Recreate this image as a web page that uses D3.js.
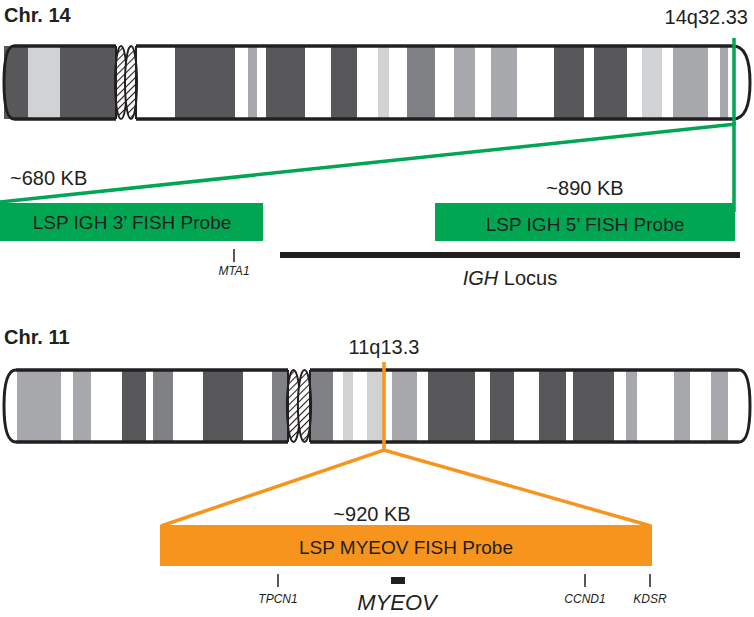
<!DOCTYPE html>
<html><head><meta charset="utf-8">
<script src="https://cdn.jsdelivr.net/npm/d3@7"></script>
<style>body{margin:0;background:#fff}text{font-family:"Liberation Sans",Arial,sans-serif}</style>
</head><body><div id="chart"></div>
<script>
// band stain classes: d=dark, m=mid, g=gray, l=light
const shade = {d: "#58585a", m: "#808184", g: "#a7a8ab", l: "#d1d2d4"};

// chr14 bands in picture pixel units (start, end, stain)
const chr14P = [[4, 28, "d"], [28, 60, "l"], [60, 116, "d"]];
const chr14Q = [[175, 235, "d"], [248, 257, "g"], [266, 305, "d"], [331, 357, "d"], [378, 389, "l"],
  [407, 435, "m"], [454, 475, "g"], [491, 517, "g"], [554, 584, "d"], [594, 627, "d"],
  [642, 662, "l"], [673, 708, "g"], [720, 728, "g"]];
const chr11P = [[17, 61, "g"], [73, 91, "g"], [122, 146, "d"], [153, 173, "m"], [203, 243, "d"], [272, 288, "m"]];
const chr11Q = [[311, 333, "m"], [343, 353, "l"], [367, 385, "l"], [392, 417, "g"], [428, 475, "d"],
  [490, 514, "d"], [539, 566, "d"], [573, 614, "d"], [626, 637, "g"], [674, 690, "g"], [711, 728, "g"]];

const genes14 = [["MTA1", 234]];
const genes11 = [["TPCN1", 278], ["CCND1", 585], ["KDSR", 650]];

const W = 754, H = 617;
const x = d3.scaleLinear().domain([0, W]).range([0, W]);
const svg = d3.select("#chart").append("svg").attr("width", W).attr("height", H);

const defs = svg.append("defs");
const pat = defs.append("pattern").attr("id", "hatch").attr("width", 5).attr("height", 5)
  .attr("patternUnits", "userSpaceOnUse").attr("patternTransform", "rotate(45)");
pat.append("rect").attr("width", 5).attr("height", 5).attr("fill", "#fff");
pat.append("line").attr("x1", 0).attr("y1", 0).attr("x2", 0).attr("y2", 5).attr("stroke", "#231f20").attr("stroke-width", 2.2);

function chromosome(y0, y1, pStart, pEnd, qStart, qEnd, capL, capR, pBands, qBands, pDark) {
  const g = svg.append("g");
  const h = y1 - y0;
  // arms
  g.append("path").attr("fill", pDark ? shade.d : "#fff")
    .attr("d", `M${x(pEnd)},${y0} L${x(pStart)},${y0} Q${x(capL)},${y0} ${x(capL)},${(y0 + y1) / 2} Q${x(capL)},${y1} ${x(pStart)},${y1} L${x(pEnd)},${y1} Z`);
  g.append("rect").attr("x", x(pStart)).attr("y", y0).attr("width", x(pEnd) - x(pStart)).attr("height", h).attr("fill", "#fff");
  g.append("path").attr("fill", "#fff")
    .attr("d", `M${x(qStart)},${y0} L${x(qEnd)},${y0} Q${x(capR)},${y0} ${x(capR)},${(y0 + y1) / 2} Q${x(capR)},${y1} ${x(qEnd)},${y1} L${x(qStart)},${y1} Z`);
  if (pDark) g.append("rect").attr("x", x(pStart)).attr("y", y0).attr("width", x(pEnd) - x(pStart)).attr("height", h).attr("fill", shade.d);
  g.selectAll(".band").data(pBands.concat(qBands)).enter().append("rect")
    .attr("x", d => x(d[0])).attr("width", d => x(d[1]) - x(d[0]))
    .attr("y", y0).attr("height", h).attr("fill", d => shade[d[2]]);
  // centromere
  const cw = (qStart - pEnd) / 2;
  [pEnd + cw * 0.5, qStart - cw * 0.5].forEach(cx => {
    g.append("ellipse").attr("cx", x(cx)).attr("cy", (y0 + y1) / 2).attr("rx", cw * 0.6).attr("ry", h / 2)
      .attr("fill", "url(#hatch)").attr("stroke", "#231f20").attr("stroke-width", 2);
  });
  // outlines
  const line = (a, b, y) => g.append("line").attr("x1", x(a)).attr("x2", x(b)).attr("y1", y).attr("y2", y).attr("stroke", "#231f20").attr("stroke-width", 3.5);
  line(pStart, pEnd, y0); line(pStart, pEnd, y1); line(qStart, qEnd, y0); line(qStart, qEnd, y1);
  g.append("line").attr("x1", x(pEnd)).attr("x2", x(pEnd)).attr("y1", y0).attr("y2", y1).attr("stroke", "#231f20").attr("stroke-width", 2);
  g.append("line").attr("x1", x(qStart)).attr("x2", x(qStart)).attr("y1", y0).attr("y2", y1).attr("stroke", "#231f20").attr("stroke-width", 2);
  const cap = (a, c) => g.append("path").attr("fill", "none").attr("stroke", "#231f20").attr("stroke-width", 3)
    .attr("d", `M${x(a)},${y0} Q${x(c)},${y0} ${x(c)},${(y0 + y1) / 2} Q${x(c)},${y1} ${x(a)},${y1}`);
  cap(pStart, capL); cap(qEnd, capR);
}

function txt(t, px, py, size, opts = {}) {
  return svg.append("text").attr("x", x(px)).attr("y", py).attr("font-size", size)
    .attr("text-anchor", opts.anchor || "start").attr("font-weight", opts.bold ? "bold" : "normal")
    .attr("font-style", opts.italic ? "italic" : "normal").attr("fill", opts.fill || "#231f20").text(t);
}

// ---- Chr 14 ----
const green = "#00a651";
txt("Chr. 14", 4, 22, 20, {bold: true});
txt("14q32.33", 748, 24, 20, {anchor: "end"});
chromosome(46, 119, 14, 116, 136, 733, 4, 750, chr14P, chr14Q, true);
svg.append("path").attr("fill", "none").attr("stroke", green).attr("stroke-width", 3.5)
  .attr("d", `M${x(734)},38 L${x(734)},212 M${x(736)},124 L${x(0)},202`);
svg.append("rect").attr("x", x(0)).attr("y", 203).attr("width", x(263)).attr("height", 38).attr("fill", green);
svg.append("rect").attr("x", x(435)).attr("y", 203).attr("width", x(735) - x(435)).attr("height", 38).attr("fill", green);
txt("~680 KB", 10, 185, 20);
txt("~890 KB", 585, 195, 20, {anchor: "middle"});
txt("LSP IGH 3\u2019 FISH Probe", 132, 229, 19, {anchor: "middle"});
txt("LSP IGH 5\u2019 FISH Probe", 585, 231, 19, {anchor: "middle"});
genes14.forEach(([n, gx]) => {
  svg.append("line").attr("x1", x(gx)).attr("x2", x(gx)).attr("y1", 249).attr("y2", 262).attr("stroke", "#231f20").attr("stroke-width", 1.5);
  txt(n, gx, 275, 12, {anchor: "middle", italic: true});
});
svg.append("rect").attr("x", x(280)).attr("y", 252).attr("width", x(740) - x(280)).attr("height", 6).attr("fill", "#231f20");
const locus = txt("", 510, 285, 20, {anchor: "middle"});
locus.append("tspan").attr("font-style", "italic").text("IGH");
locus.append("tspan").text(" Locus");

// ---- Chr 11 ----
const orange = "#f7941d";
txt("Chr. 11", 4, 344, 20, {bold: true});
txt("11q13.3", 384, 354, 20, {anchor: "middle"});
chromosome(370, 442, 16, 288, 310, 739, 4, 750, chr11P, chr11Q, false);
svg.append("path").attr("fill", "none").attr("stroke", orange).attr("stroke-width", 3.5)
  .attr("d", `M${x(384)},362 L${x(384)},450 M${x(161)},526 L${x(384)},450 L${x(651)},526`);
svg.append("rect").attr("x", x(160)).attr("y", 525).attr("width", x(652) - x(160)).attr("height", 41).attr("fill", orange);
txt("~920 KB", 372, 521, 20, {anchor: "middle"});
txt("LSP MYEOV FISH Probe", 406, 554, 19, {anchor: "middle"});
genes11.forEach(([n, gx]) => {
  svg.append("line").attr("x1", x(gx)).attr("x2", x(gx)).attr("y1", 574).attr("y2", 587).attr("stroke", "#231f20").attr("stroke-width", 1.5);
  txt(n, gx, 603, 12, {anchor: "middle", italic: true});
});
svg.append("rect").attr("x", x(391)).attr("y", 577).attr("width", x(405) - x(391)).attr("height", 7).attr("fill", "#231f20");
txt("MYEOV", 397, 610, 22, {anchor: "middle", italic: true});
</script></body></html>
